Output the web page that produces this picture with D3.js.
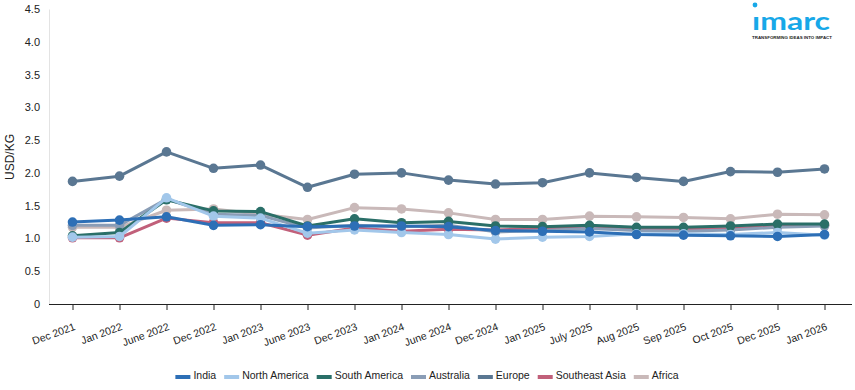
<!DOCTYPE html>
<html><head><meta charset="utf-8">
<script src="https://cdn.jsdelivr.net/npm/d3@7"></script>
<style>body{margin:0;background:#fff;font-family:Arial,"Liberation Sans",sans-serif;}</style>
</head><body><svg id="c" width="855" height="390"></svg>
<script>
const categories = ["Dec 2021","Jan 2022","June 2022","Dec 2022","Jan 2023","June 2023","Dec 2023","Jan 2024","June 2024","Dec 2024","Jan 2025","July 2025","Aug 2025","Sep 2025","Oct 2025","Dec 2025","Jan 2026"];
const seriesNames = ["India","North America","South America","Australia","Europe","Southeast Asia","Africa"];
const india        = [1.25,1.28,1.33,1.20,1.21,1.18,1.19,1.19,1.18,1.12,1.11,1.10,1.06,1.05,1.04,1.03,1.06];
const northAmerica = [1.02,1.03,1.62,1.34,1.31,1.08,1.13,1.09,1.06,0.99,1.02,1.03,1.07,1.07,1.06,1.09,1.05];
const southAmerica = [1.04,1.09,1.59,1.42,1.41,1.19,1.30,1.24,1.26,1.19,1.18,1.20,1.17,1.17,1.19,1.22,1.22];
const australia    = [1.20,1.20,1.60,1.37,1.35,1.16,1.20,1.18,1.20,1.10,1.12,1.15,1.12,1.11,1.13,1.17,1.19];
const europe       = [1.87,1.95,2.32,2.07,2.12,1.78,1.98,2.00,1.89,1.83,1.85,2.00,1.93,1.87,2.02,2.01,2.06];
const southeastAsia= [1.01,1.01,1.31,1.24,1.24,1.05,1.16,1.11,1.14,1.13,1.15,1.16,1.15,1.14,1.15,1.19,1.20];
const africa       = [1.17,1.17,1.43,1.45,1.37,1.29,1.47,1.45,1.39,1.29,1.29,1.34,1.33,1.32,1.30,1.37,1.36];
const yTicks = [0,0.5,1,1.5,2,2.5,3,3.5,4,4.5];
const colors = ["#2d6fb6","#a2c7ea","#2a6f68","#8a9db6","#5a7792","#c1607a","#c9b9b9"];
const seriesValues = [india,northAmerica,southAmerica,australia,europe,southeastAsia,africa];
const FONT = "Arial, 'Liberation Sans', sans-serif";

const svg = d3.select("#c");
const x = d3.scalePoint().domain(categories).range([49,848]).padding(0.5);
const y = d3.scaleLinear().domain([0,4.5]).range([304,9]);

// y axis
const ya = svg.append("g").attr("transform","translate(49,0)")
  .call(d3.axisLeft(y).tickValues(yTicks).tickSize(0).tickPadding(9).tickFormat(d=> d===0?"0":d3.format(".1f")(d)));
ya.select(".domain").attr("stroke","#e3e3e3");
ya.selectAll("text").attr("font-size","11px").attr("fill","#222").attr("font-family",FONT);

// x axis
const xa = svg.append("g").attr("transform","translate(0,304)")
  .call(d3.axisBottom(x).tickSize(6).tickSizeOuter(0));
xa.select(".domain").attr("stroke","#222").attr("d","M49,0.5H852");
xa.selectAll(".tick line").attr("stroke","#222");
xa.selectAll("text").attr("font-size","10.5px").attr("fill","#222")
  .attr("font-family",FONT)
  .attr("text-anchor","end").attr("dy","0").attr("dx","0")
  .attr("transform","translate(0,17) rotate(-20)");

// y label
svg.append("text").attr("transform","translate(14,157) rotate(-90)")
  .attr("text-anchor","middle").attr("font-size","12px").attr("fill","#222")
  .attr("font-family",FONT).text("USD/KG");

// lines (draw reverse so India on top)
const line = d3.line().x((d,i)=>x(categories[i])).y(d=>y(d));
for (let s = seriesNames.length-1; s>=0; s--) {
  const g = svg.append("g");
  g.append("path").datum(seriesValues[s]).attr("d",line).attr("fill","none")
    .attr("stroke",colors[s]).attr("stroke-width",3).attr("stroke-linejoin","round");
  g.selectAll("circle").data(seriesValues[s]).join("circle")
    .attr("cx",(d,i)=>x(categories[i])).attr("cy",d=>y(d)).attr("r",4.8).attr("fill",colors[s]);
}

// legend
const leg = svg.append("g");
let lx = 0;
seriesNames.forEach((n,i)=>{
  const it = leg.append("g").attr("transform",`translate(${lx},0)`);
  it.append("rect").attr("x",0).attr("y",-4).attr("width",15).attr("height",4).attr("fill",colors[i]);
  const t = it.append("text").attr("x",18).attr("y",0).attr("font-size","10.5px").attr("fill","#222")
    .attr("font-family",FONT).text(n);
  lx += 18 + t.node().getComputedTextLength() + 8;
});
lx -= 8;
leg.attr("transform",`translate(${427 - lx/2},379)`);

// logo
svg.append("text").attr("x",752).attr("y",29.5)
  .attr("font-size","25px").attr("font-weight","bold").attr("fill","#17a8e8")
  .attr("font-family","Lato, 'Open Sans', Arial, sans-serif")
  .attr("textLength",78).attr("lengthAdjust","spacingAndGlyphs").text("ımarc");
svg.append("circle").attr("cx",755).attr("cy",5).attr("r",2.4).attr("fill","#17a8e8");
svg.append("text").attr("x",792).attr("y",39).attr("text-anchor","middle")
  .attr("font-size","4.4px").attr("font-weight","bold").attr("fill","#222")
  .attr("font-family","Arial, sans-serif").text("TRANSFORMING IDEAS INTO IMPACT");
</script></body></html>
